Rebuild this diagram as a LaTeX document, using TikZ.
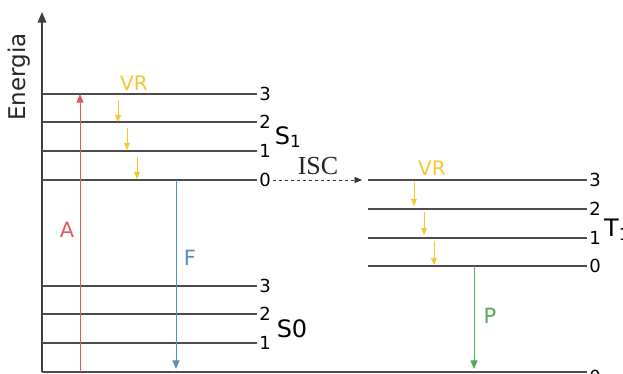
\documentclass[tikz,border=0pt]{standalone}
\usepackage{fontspec}
\setmainfont{DejaVu Sans}
\newfontfamily\iscfont{Liberation Serif}
\usetikzlibrary{arrows}
\definecolor{absred}{RGB}{222,90,95}
\definecolor{fluoblue}{RGB}{80,145,195}
\definecolor{vryellow}{RGB}{245,200,50}
\definecolor{phosgreen}{RGB}{85,170,90}
\tikzstyle{level} = [draw=black!70, line width=1.3pt]
\tikzstyle{lvl} = [inner sep=2pt, font=\fontsize{18}{18}\selectfont]
\tikzstyle{state} = [inner sep=0pt, font=\fontsize{24}{24}\selectfont]
\tikzstyle{trans} = [->, >={triangle 45}, line width=1pt]
\tikzstyle{tlabel} = [inner sep=0pt, font=\fontsize{21}{21}\selectfont]
\tikzstyle{vr} = [trans, draw=vryellow, line width=0.6pt]
\newcommand{\vrstep}[3]{ %
  % small yellow step from (#1,#2) to (#1,#3)
  \coordinate (v#1a) at (#1,#2);
  \coordinate (v#1b) at (#1,#3);
  \draw[vr] (v#1a) -- (v#1b);
}

\begin{document}
\begin{tikzpicture}[x=1pt, y=-1pt]
  \useasboundingbox (0,0) rectangle (623,374);
  % axes
  \coordinate (o) at (42,372);
  \coordinate (top) at (42,12);
  \draw[black!75, line width=1.5pt, ->, >={triangle 45}] (o) -- (top);
  \node[tlabel, rotate=90, black!85, font=\fontsize{23}{23}\selectfont] (energia) at (19,77) {Energia};
  \node[lvl] (g0) at (595,377) {0};
  \draw[level, line width=2pt] (o) -- (o -| g0.west);
  % S1
  \foreach \n/\y in {3/94,2/122,1/151,0/180} {
    \coordinate (sa\n) at (42,\y);
    \node[lvl] (sl\n) at (265,\y) {\n};
    \draw[level] (sa\n) -- (sl\n);
  }
  \node[state] (s1) at (288,137) {S\textsubscript{1}};
  % S0
  \foreach \n/\y in {3/286,2/314,1/343} {
    \coordinate (ga\n) at (42,\y);
    \node[lvl] (gl\n) at (265,\y) {\n};
    \draw[level] (ga\n) -- (gl\n);
  }
  \node[state] (s0) at (292,329) {S0};
  % T1
  \foreach \n/\y in {3/180,2/209,1/238,0/266} {
    \coordinate (ta\n) at (368,\y);
    \node[lvl] (tl\n) at (595,\y) {\n};
    \draw[level] (ta\n) -- (tl\n);
  }
  \node[state, anchor=west] (t1) at (604,230) {T\textsubscript{1}};
  % A
  \coordinate (a0) at (80,372);
  \coordinate (a1) at (80,94);
  \draw[trans, absred] (a0) -- (a1);
  \node[tlabel, absred] (la) at (67,230) {A};
  % F
  \coordinate (f0) at (176,180);
  \coordinate (f1) at (176,369);
  \draw[trans, fluoblue] (f0) -- (f1);
  \node[tlabel, fluoblue] (lf) at (190,258) {F};
  % P
  \coordinate (p0) at (474,266);
  \coordinate (p1) at (474,369);
  \draw[trans, phosgreen] (p0) -- (p1);
  \node[tlabel, phosgreen] (lp) at (490,316) {P};
  % ISC
  \draw[trans, dashed, line width=0.7pt, black!80, shorten >=6pt] (sl0) -- (ta3);
  \node[tlabel, black!85, font=\iscfont\fontsize{26}{26}\selectfont] (isc) at (318,166) {ISC};
  % VR
  \node[tlabel, vryellow, font=\fontsize{20}{20}\selectfont] (vr1) at (134,83) {VR};
  \vrstep{118}{100}{122}
  \vrstep{127}{128}{150}
  \vrstep{137}{157}{179}
  \node[tlabel, vryellow, font=\fontsize{20}{20}\selectfont] (vr2) at (432,168) {VR};
  \vrstep{414}{182}{206}
  \vrstep{424}{212}{235}
  \vrstep{434}{241}{265}
\end{tikzpicture}
\end{document}
